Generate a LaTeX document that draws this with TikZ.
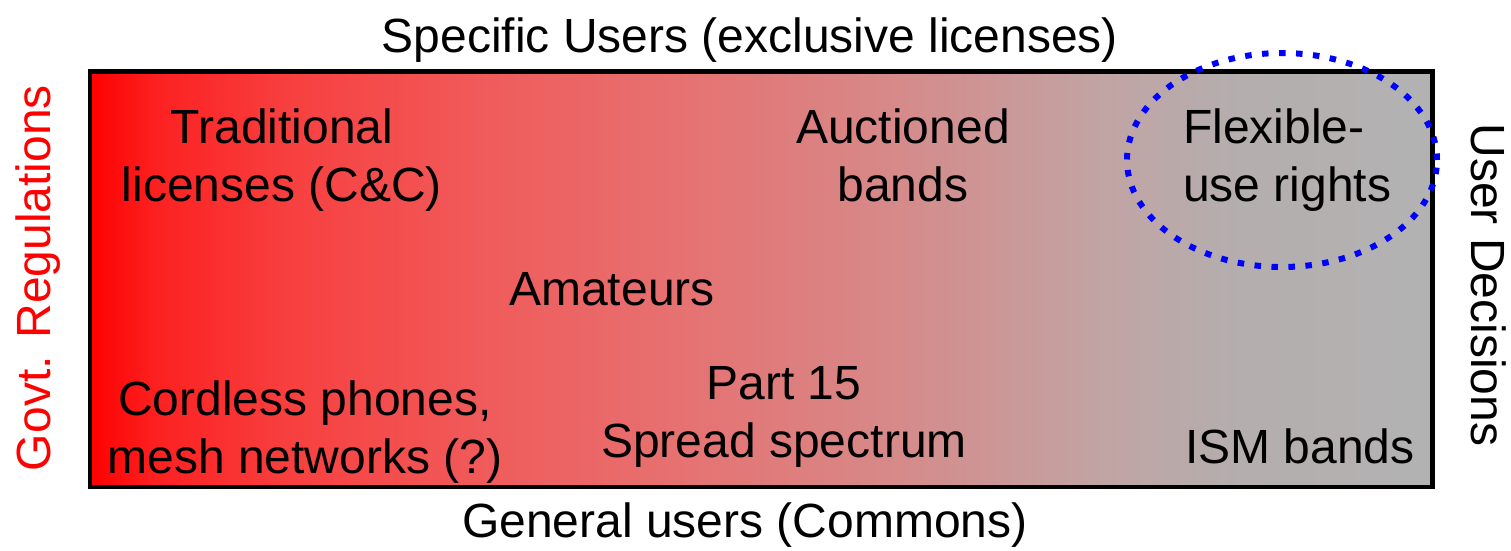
\documentclass[tikz,border=0pt]{standalone}
\usepackage{fontspec}
\setmainfont{Liberation Sans}
\usepackage{xcolor}
\usetikzlibrary{positioning}
\definecolor{govtred}{RGB}{255,0,0}
\definecolor{flexblue}{RGB}{0,0,255}
\pgfdeclarehorizontalshading{regshade}{100bp}{rgb(0bp)=(1,0,0); rgb(25bp)=(1,0,0);
	rgb(27.5bp)=(0.99,0.13,0.13); rgb(32.5bp)=(0.97,0.25,0.25);
	rgb(40bp)=(0.94,0.36,0.36); rgb(47.5bp)=(0.9,0.45,0.45);
	rgb(55bp)=(0.84,0.54,0.54); rgb(62.5bp)=(0.76,0.64,0.64);
	rgb(67.5bp)=(0.71,0.68,0.68); rgb(75bp)=(0.7,0.7,0.7); rgb(100bp)=(0.7,0.7,0.7)}
\tikzstyle{lbl}=[inner sep=0, font=\fontsize{48}{57.6}\selectfont, align=center, anchor=base]
\tikzstyle{side}=[lbl, anchor=base]
\tikzstyle{band}=[line width=4.5pt, shading=regshade]
\tikzstyle{flexring}=[draw=flexblue, line width=6pt, dash pattern=on 6.5pt off 10.5pt]

\begin{document}
\begin{tikzpicture}[x=1pt,y=-1pt]
	\useasboundingbox (0,0) rectangle (1511,550);
	\shadedraw[band] (90,71.5) rectangle (1432.5,487);
	% axes
	\node[side] (excl) at (750,52) {Specific Users (exclusive licenses)};
	\node[side] (commons) at (745,537) {General users (Commons)};
	\node[side, rotate=90, text=govtred] (govt) at (50,278) {Govt. Regulations};
	\node[side, rotate=-90] (user) at (1471,285) {User Decisions};
	% bands (base = last line)
	\node[lbl] (trad) at (282,201) {Traditional\\licenses (C\&C)};
	\node[lbl] (auct) at (903,201) {Auctioned\\bands};
	\node[lbl, anchor=base west, align=left] (flex) at (1183,201) {Flexible-\\use rights};
	\node[lbl] (amat) at (612,305) {Amateurs};
	\node[lbl] (part) at (784,457) {Part 15\\Spread spectrum};
	\node[lbl] (cord) at (305,473) {Cordless phones,\\mesh networks (?)};
	\node[lbl] (ism) at (1300,463) {ISM bands};
	\draw[flexring] (1282,160) ellipse [x radius=155pt, y radius=107pt];
\end{tikzpicture}
\end{document}
